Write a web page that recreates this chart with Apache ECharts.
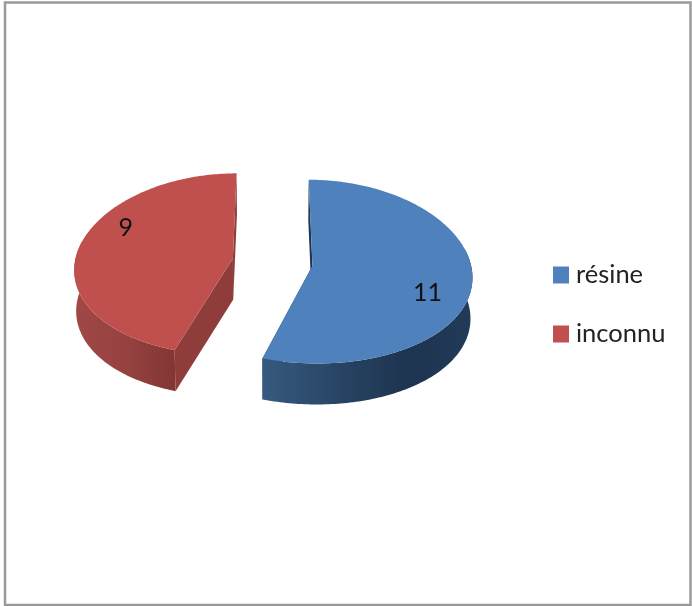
<!DOCTYPE html>
<html>
<head>
<meta charset="utf-8">
<style>html,body{margin:0;padding:0;background:#fff}#c{width:692px;height:606px}</style>
<script src="https://cdn.jsdelivr.net/npm/echarts@6/dist/echarts.min.js"></script>
</head>
<body>
<div id="c"></div>
<script>
const categories = ['résine', 'inconnu'];
const values = [11, 9];
const topColors = ['#4f81bd', '#c0504d'];

const FONT = 'Lato, "Liberation Sans", sans-serif';
const X0 = 272.5, Y0 = 262, RX = 158, RY = 91, KX = 0.104, KY = 0.065;
const DEPTH = 41, BOTTOM_SCALE = 0.99, EXPLODE = 0.255;
const wallStops = [
  [[0, '#36597f'], [0.45, '#25405f'], [0.7, '#1e3450'], [1, '#213b59']],
  [[0, '#a04846'], [0.5, '#964240'], [1, '#823634']]
];
const cutColors = ['#1f3550', '#8f3d3a'];
const labelPolar = [[112.6, 0.753], [296, 0.794]];

const total = values.reduce((a, b) => a + b, 0);
const rad = d => d * Math.PI / 180;

function sliceAngles(i) {
  let before = 0;
  for (let k = 0; k < i; k++) before += values[k];
  return [before / total * 360, (before + values[i]) / total * 360];
}
function projector(i) {
  const [a0, a1] = sliceAngles(i);
  const mid = rad((a0 + a1) / 2);
  const ex = EXPLODE * Math.sin(mid), ey = -EXPLODE * Math.cos(mid);
  return function (angle, r, bottom) {
    const U = r * Math.sin(rad(angle)) + ex;
    const V = -r * Math.cos(rad(angle)) + ey;
    let x = X0 + RX * U / (1 - KX * V);
    let y = Y0 + RY * V / (1 - KY * V);
    if (bottom) { x = X0 + (x - X0) * BOTTOM_SCALE; y += DEPTH; }
    return [x, y];
  };
}
function renderSlice(i) {
  return function () {
    const [a0, a1] = sliceAngles(i);
    const p = projector(i);
    const children = [];
    const span = [];
    for (let a = a0; a <= a1 + 1e-6; a += 1) span.push(a);

    // straight cut walls
    [a0, a1].forEach(function (a) {
      children.push({
        type: 'polygon', silent: true,
        shape: { points: [p(a, 1), p(a, 0), p(a, 0, true), p(a, 1, true)] },
        style: { fill: cutColors[i] }
      });
    });
    // outer curved wall, front part only
    const front = span.filter(a => Math.cos(rad(a)) < 0.2);
    const wall = front.map(a => p(a, 1)).concat(front.slice().reverse().map(a => p(a, 1, true)));
    children.push({
      type: 'polygon', silent: true,
      shape: { points: wall },
      style: {
        fill: new echarts.graphic.LinearGradient(0, 0, 1, 0,
          wallStops[i].map(s => ({ offset: s[0], color: s[1] })))
      }
    });
    // top face
    const top = [p(a0, 0)].concat(span.map(a => p(a, 1)));
    children.push({
      type: 'polygon', silent: true,
      shape: { points: top },
      style: { fill: topColors[i] }
    });
    // value label
    const lp = p(labelPolar[i][0], labelPolar[i][1]);
    children.push({
      type: 'text', silent: true, x: lp[0], y: lp[1],
      style: {
        text: String(values[i]), fill: '#111', font: '25px ' + FONT,
        align: 'center', verticalAlign: 'middle'
      }
    });
    return { type: 'group', children: children };
  };
}

const chart = echarts.init(document.getElementById('c'), null, { renderer: 'canvas' });
chart.setOption({
  animation: false,
  backgroundColor: '#ffffff',
  color: topColors,
  graphic: [{
    type: 'rect', silent: true, z: -1,
    shape: { x: 5, y: 2.5, width: 685.5, height: 602.5 },
    style: { fill: '#fff', stroke: '#9a9a9a', lineWidth: 2.5 }
  }],
  legend: {
    orient: 'vertical', left: 548, top: 257,
    itemWidth: 16, itemHeight: 17, itemGap: 33, icon: 'rect',
    selectedMode: false,
    data: categories,
    textStyle: { fontFamily: FONT, fontSize: 25.5, color: '#222', padding: [0, 0, 0, 2] }
  },
  series: categories.map(function (name, i) {
    return {
      type: 'custom', name: name, coordinateSystem: 'none',
      data: [[values[i]]],
      itemStyle: { color: topColors[i] },
      renderItem: renderSlice(i)
    };
  })
});
</script>
</body>
</html>
